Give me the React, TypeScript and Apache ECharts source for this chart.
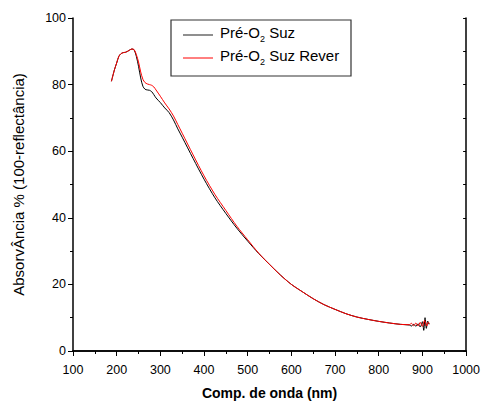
import React, { useEffect, useRef } from "react";
import * as echarts from "echarts";

const wavelengthsSuz = [188, 195, 200, 205, 210, 215, 220, 225, 230, 235, 240, 245, 250, 255, 260, 265, 270, 275, 280, 285, 290, 300, 310, 320, 330, 340, 350, 375, 400, 425, 450, 475, 500, 525, 550, 575, 600, 625, 650, 675, 700, 725, 750, 775, 800, 825, 850, 870, 875, 880, 885, 890, 895, 900, 903, 906, 909, 912, 915];
const valuesSuz = [81.0, 84.5, 86.5, 88.5, 89.3, 89.6, 89.7, 90.0, 90.4, 90.7, 90.4, 88.5, 85.5, 82.0, 79.5, 78.6, 78.4, 78.3, 77.9, 77.0, 76.0, 74.6, 73.0, 71.6, 69.4, 66.7, 64.2, 57.8, 51.6, 46.0, 41.3, 36.9, 33.0, 29.3, 26.0, 22.8, 20.0, 17.8, 15.7, 13.9, 12.5, 11.2, 10.2, 9.5, 8.9, 8.4, 8.0, 7.8, 7.5, 8.0, 7.4, 8.2, 7.2, 8.8, 6.2, 10.0, 6.8, 9.0, 8.0];

const wavelengthsRever = [188, 195, 200, 205, 210, 215, 220, 225, 230, 235, 240, 245, 250, 255, 260, 265, 270, 275, 280, 285, 290, 300, 310, 320, 330, 340, 350, 375, 400, 425, 450, 475, 500, 525, 550, 575, 600, 625, 650, 675, 700, 725, 750, 775, 800, 825, 850, 870, 875, 880, 885, 890, 895, 900, 905, 910, 913, 917];
const valuesRever = [81.0, 84.5, 86.5, 88.5, 89.3, 89.6, 89.7, 90.0, 90.4, 90.7, 90.5, 89.0, 86.8, 83.8, 81.6, 80.6, 80.2, 80.0, 79.8, 79.3, 78.4, 76.5, 74.5, 72.7, 70.6, 68.0, 65.4, 58.9, 52.6, 47.0, 42.2, 37.5, 33.4, 29.4, 26.0, 22.8, 20.0, 17.8, 15.7, 13.9, 12.5, 11.2, 10.2, 9.5, 8.9, 8.4, 8.0, 7.9, 8.3, 7.6, 8.4, 7.5, 8.6, 7.4, 9.2, 7.5, 8.6, 8.2];

const xTicks = { min: 100, max: 1000, interval: 100 };
const yTicks = { min: 0, max: 100, interval: 20 };

const seriesNames = ["Pré-O2 Suz", "Pré-O2 Suz Rever"];
const xTitle = "Comp. de onda (nm)";
const yTitle = "AbsorvÂncia % (100-reflectância)";

const FONT = "Liberation Sans, Arial, sans-serif";

export default function App() {
  const ref = useRef<HTMLDivElement>(null);
  useEffect(() => {
    if (!ref.current) return;
    const chart = echarts.init(ref.current, null, { renderer: "svg" });
    const pair = (xs: number[], ys: number[]) => xs.map((x, i) => [x, ys[i]]);
    const axisLine = { show: true, lineStyle: { color: "#000", width: 1.5 } };
    const baseX = {
      type: "value" as const,
      min: xTicks.min,
      max: xTicks.max,
      interval: xTicks.interval,
      splitLine: { show: false },
      axisLine,
    };
    const baseY = {
      type: "value" as const,
      min: yTicks.min,
      max: yTicks.max,
      interval: yTicks.interval,
      splitLine: { show: false },
      axisLine,
    };
    const legendText = (t: string, y: number) => ({
      type: "text",
      left: 220,
      top: y - 10,
      z: 101,
      style: {
        text: t,
        fill: "#000",
        font: `15px ${FONT}`,
        rich: {
          n: { fontSize: 15, fontFamily: FONT, fill: "#000" },
          s: { fontSize: 9, fontFamily: FONT, fill: "#000", padding: [12, 0, 0, 0] },
        },
      },
    });
    chart.setOption({
      animation: false,
      backgroundColor: "#fff",
      grid: { left: 73, right: 15, top: 18, bottom: 52 },
      xAxis: [
        {
          ...baseX,
          position: "bottom",
          name: xTitle,
          nameLocation: "middle",
          nameGap: 35,
          nameTextStyle: { fontFamily: FONT, fontSize: 14, fontWeight: "bold", color: "#000" },
          axisTick: { show: true, inside: false, length: 5, lineStyle: { color: "#000", width: 1 } },
          minorTick: { show: true, splitNumber: 2, length: 3, lineStyle: { color: "#000", width: 1 } },
          axisLabel: { fontFamily: FONT, fontSize: 12.5, color: "#000", margin: 12, formatter: (v: number) => String(v) },
        },
        {
          ...baseX,
          position: "top",
          axisTick: { show: true, inside: true, length: 3, lineStyle: { color: "#000", width: 1 } },
          minorTick: { show: true, splitNumber: 2, length: 3, lineStyle: { color: "#000", width: 1 } },
          axisLabel: { show: false },
        },
      ],
      yAxis: [
        {
          ...baseY,
          position: "left",
          name: yTitle,
          nameLocation: "middle",
          nameGap: 47,
          nameTextStyle: { fontFamily: FONT, fontSize: 15, color: "#000" },
          axisTick: { show: true, inside: false, length: 5, lineStyle: { color: "#000", width: 1 } },
          minorTick: { show: true, splitNumber: 2, length: 3, lineStyle: { color: "#000", width: 1 } },
          axisLabel: { fontFamily: FONT, fontSize: 12.5, color: "#000", margin: 7 },
        },
        {
          ...baseY,
          position: "right",
          axisTick: { show: true, inside: true, length: 3, lineStyle: { color: "#000", width: 1 } },
          minorTick: { show: true, splitNumber: 2, length: 3, lineStyle: { color: "#000", width: 1 } },
          axisLabel: { show: false },
        },
      ],
      series: [
        {
          name: seriesNames[0],
          type: "line",
          data: pair(wavelengthsSuz, valuesSuz),
          showSymbol: false,
          smooth: 0.3,
          lineStyle: { color: "#000", width: 1 },
          itemStyle: { color: "#000" },
          z: 2,
        },
        {
          name: seriesNames[1],
          type: "line",
          data: pair(wavelengthsRever, valuesRever),
          showSymbol: false,
          smooth: 0.3,
          lineStyle: { color: "#ff0000", width: 1 },
          itemStyle: { color: "#ff0000" },
          z: 3,
        },
      ],
      graphic: [
        {
          type: "rect",
          z: 100,
          shape: { x: 171, y: 20, width: 180, height: 56 },
          style: { fill: "#fff", stroke: "#333", lineWidth: 1.2 },
        },
        {
          type: "line",
          z: 101,
          shape: { x1: 183, y1: 35, x2: 213, y2: 35 },
          style: { stroke: "#444", lineWidth: 1.2 },
        },
        {
          type: "line",
          z: 101,
          shape: { x1: 183, y1: 58, x2: 213, y2: 58 },
          style: { stroke: "#ff0000", lineWidth: 1 },
        },
        legendText("{n|Pré-O}{s|2}{n| Suz}", 35),
        legendText("{n|Pré-O}{s|2}{n| Suz Rever}", 58),
      ],
    });
    return () => chart.dispose();
  }, []);
  return (
    <div
      ref={ref}
      style={{ position: "fixed", left: 0, top: 0, width: 483, height: 405, overflow: "hidden" }}
    />
  );
}
